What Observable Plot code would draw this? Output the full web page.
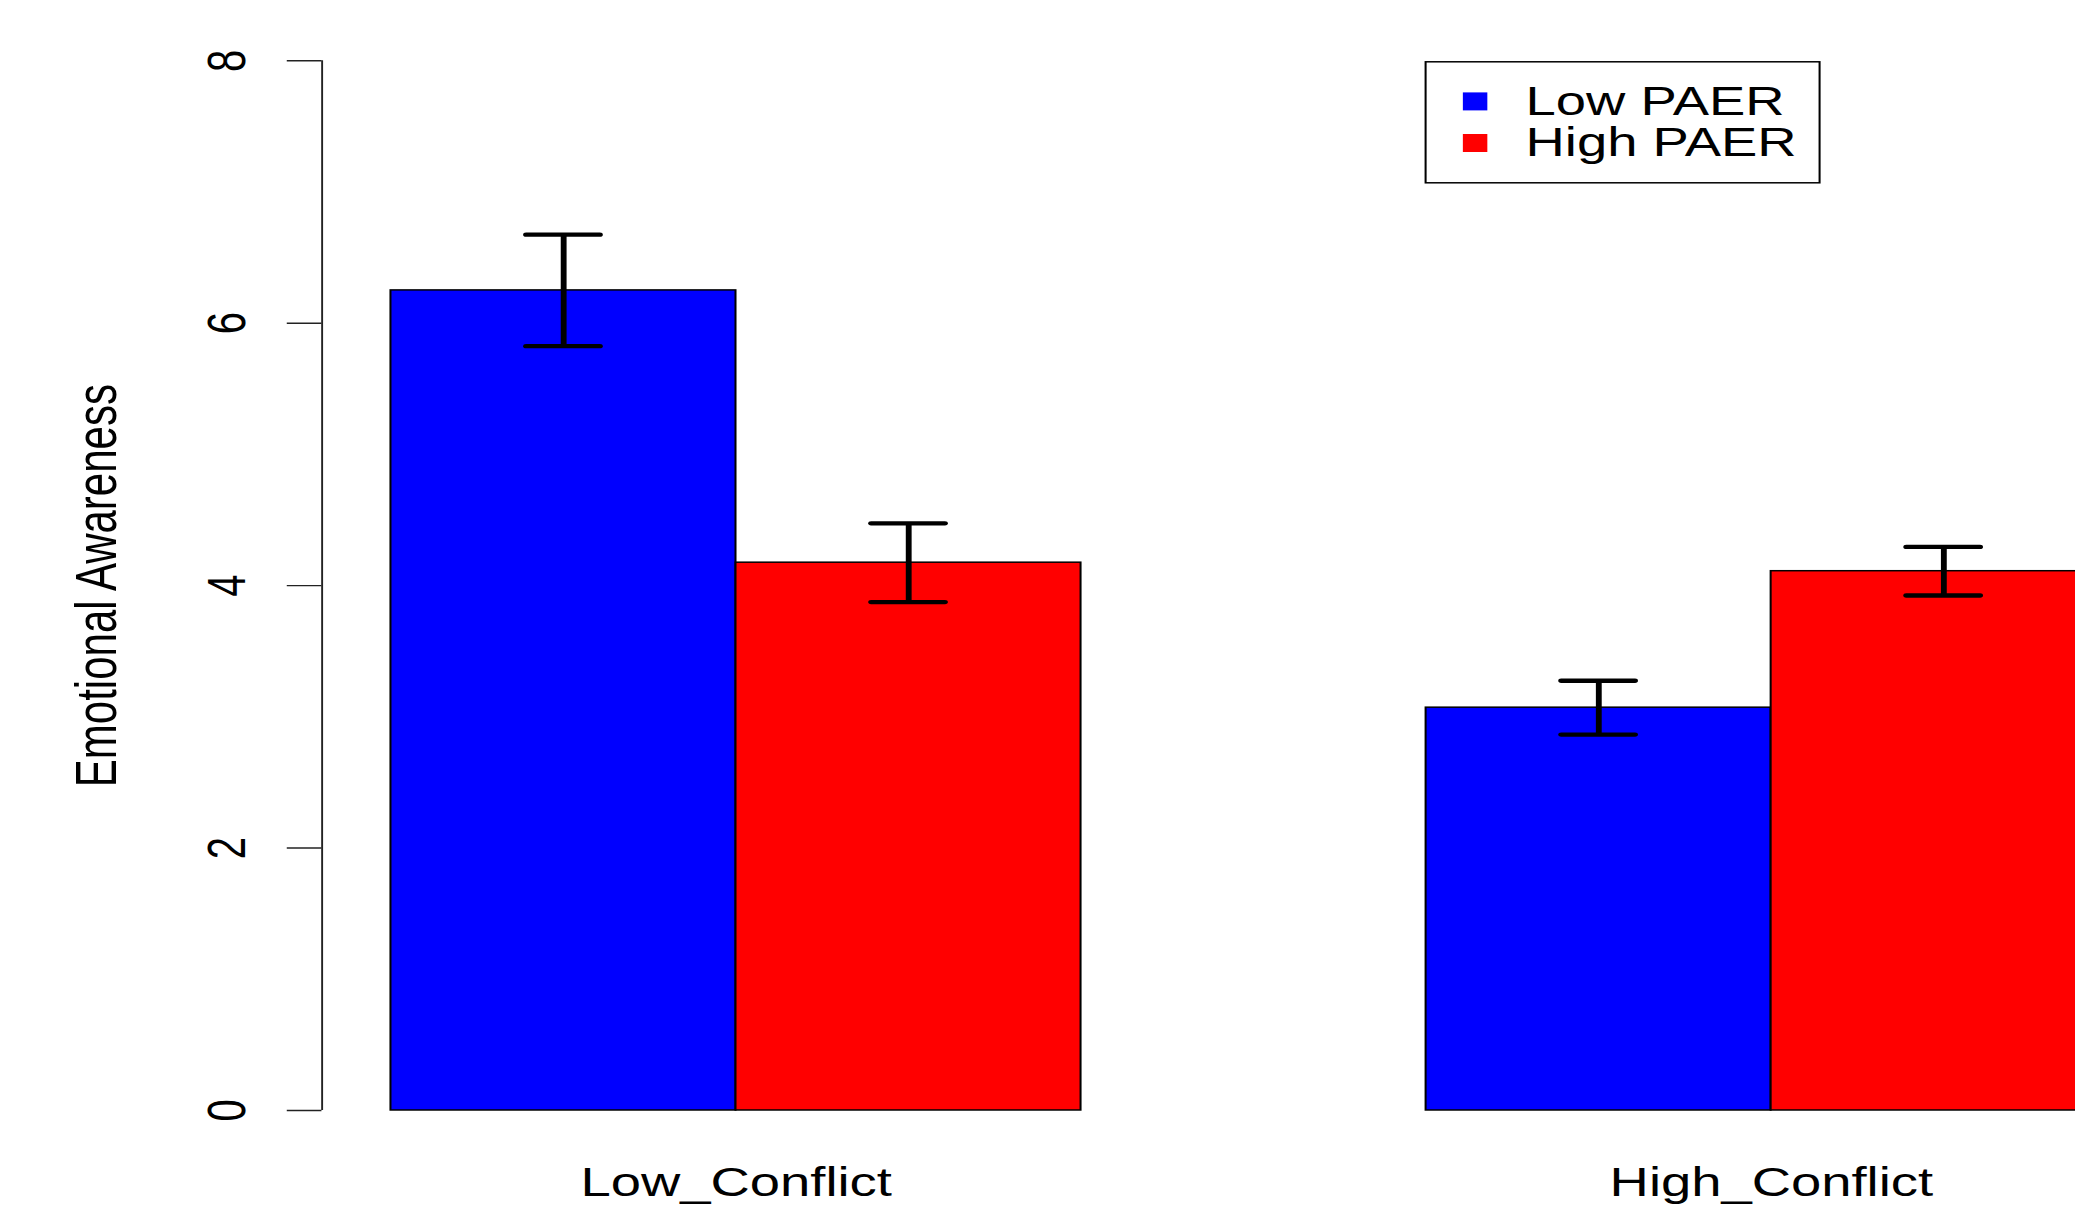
<!DOCTYPE html>
<html><head><meta charset="utf-8">
<script src="https://cdn.jsdelivr.net/npm/d3@7"></script>
<script src="https://cdn.jsdelivr.net/npm/@observablehq/plot@0.6"></script>
<style>
html,body{margin:0;padding:0;background:#fff;overflow:hidden;}
#wrap{transform-origin:0 0;}
#wrap svg{overflow:hidden;display:block;}
</style></head><body><div id="wrap"></div>
<script>
// ---- data ----
const groups = ["Low_Conflict", "High_Conflict"];
const seriesNames = ["Low PAER", "High PAER"];
const seriesColors = ["#0000FF", "#FF0000"];
const lowPAER = [6.25, 3.07];
const highPAER = [4.175, 4.11];
const lowPAERse = [0.425, 0.205];
const highPAERse = [0.30, 0.185];
const yTicks = [0, 2, 4, 6, 8];
const yLabel = "Emotional Awareness";

// ---- layout (R barplot style, beside = TRUE, space = c(0,1)) ----
const S = 1.36;               // horizontal stretch of the reference image
const W = 2075 / S;
const H = 1206;
const FONT = "'Liberation Sans', Arial, Helvetica, sans-serif";
const FS = 40;

const values = [lowPAER, highPAER];
const ses = [lowPAERse, highPAERse];
const nS = seriesNames.length;
const rows = [];
groups.forEach((g, gi) => seriesNames.forEach((s, si) => {
  const x1 = 1 + gi * (nS + 1) + si;
  rows.push({group: g, series: s, value: values[si][gi], se: ses[si][gi], x1, x2: x1 + 1, xc: x1 + 0.5});
}));
const groupCenters = groups.map((g, gi) => 1 + gi * (nS + 1) + nS / 2);
const xMin = 1, xMax = groups.length * (nS + 1);
const xPad = 0.04 * (xMax - xMin);
const xDomain = [xMin - xPad, xMax + xPad];
const unit = 345.05 / S;
const x0px = 45.4 / S;
const xRange = [x0px + xDomain[0] * unit, x0px + xDomain[1] * unit];
const cap = 0.107;

const plot = Plot.plot({
  width: W, height: H,
  marginLeft: xRange[0], marginRight: 0, marginTop: 60.3, marginBottom: 96,
  x: {domain: xDomain, range: xRange, axis: null},
  y: {domain: [yTicks[0], yTicks[yTicks.length - 1]], axis: null},
  color: {domain: seriesNames, range: seriesColors},
  style: {fontFamily: FONT, background: "white", color: "black"},
  marks: [
    Plot.rectY(rows, {x1: "x1", x2: "x2", y1: 0, y2: "value", fill: "series", stroke: "black", strokeWidth: 1.5}),
    Plot.ruleX(rows, {x: "xc", y1: d => d.value - d.se, y2: d => d.value + d.se, stroke: "black", strokeWidth: 4.3}),
    Plot.ruleY(rows, {y: d => d.value + d.se, x1: d => d.xc - cap, x2: d => d.xc + cap, stroke: "black", strokeWidth: 4.3, strokeLinecap: "round"}),
    Plot.ruleY(rows, {y: d => d.value - d.se, x1: d => d.xc - cap, x2: d => d.xc + cap, stroke: "black", strokeWidth: 4.3, strokeLinecap: "round"}),
    Plot.ruleX([xDomain[0]], {y1: yTicks[0], y2: yTicks[yTicks.length - 1], stroke: "#222", strokeWidth: 1.4}),
    Plot.axisY({ticks: yTicks, tickSize: 25.5, tickPadding: 31.5, tickRotate: -90, fontSize: FS, label: null,
                tickFormat: d => String(d), stroke: "#222", strokeWidth: 1.4}),
    Plot.text(groups, {x: (d, i) => groupCenters[i], frameAnchor: "bottom", dy: 86, lineAnchor: "bottom",
                       textAnchor: "middle", fontSize: FS, text: d => d}),
    Plot.text([yLabel], {frameAnchor: "left", rotate: -90, dx: 84.6 - xRange[0], lineAnchor: "bottom",
                         textAnchor: "middle", fontSize: 42, text: d => d})
  ]
});

// ---- legend inside plot at (x = 4, y = 8) as in R legend(4, 8, ...) ----
const xs = plot.scale("x"), ys = plot.scale("y");
const svg = d3.select(plot);
const lx = xs.apply(4), ly = ys.apply(8) + 1.5;
const lg = svg.append("g").attr("font-family", FONT).attr("text-anchor", "start");
lg.append("rect").attr("x", lx).attr("y", ly).attr("width", 289.7).attr("height", 121)
  .attr("fill", "white").attr("stroke", "black").attr("stroke-width", 1.5);
seriesNames.forEach((s, i) => {
  lg.append("rect").attr("x", lx + 27.4).attr("y", ly + 30.6 + i * 41.6).attr("width", 18).attr("height", 18)
    .attr("fill", seriesColors[i]);
  lg.append("text").attr("x", lx + 73.5).attr("y", ly + 52.8 + i * 41.7).attr("font-size", FS)
    .attr("text-anchor", "start").attr("fill", "black").text(s);
});

const wrap = document.getElementById("wrap");
wrap.style.transform = `scaleX(${S})`;
wrap.appendChild(plot);
</script></body></html>
